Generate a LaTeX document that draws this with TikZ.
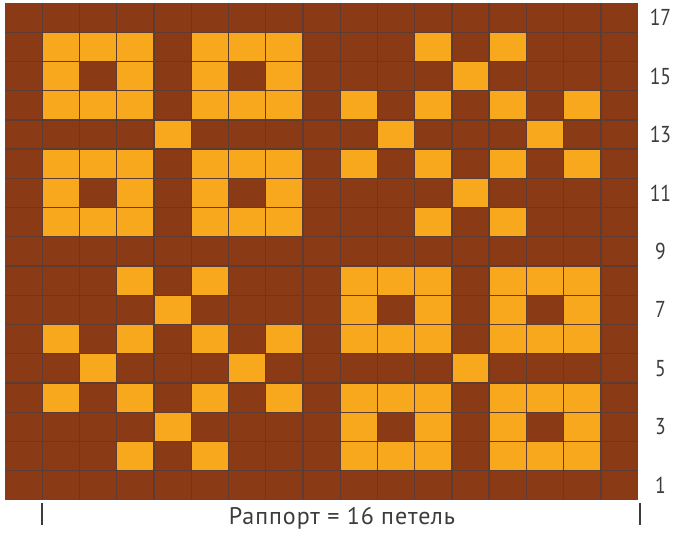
\documentclass[tikz,border=0pt]{standalone}
\usepackage{fontspec}
\setmainfont{PT Sans}[FakeStretch=0.85]
\newfontfamily\captionfont{PT Sans}[LetterSpace=4]
\definecolor{chartbrown}{HTML}{8A3A15}
\definecolor{chartyellow}{HTML}{F8A81C}
\definecolor{gridgray}{HTML}{5E3C34}
\definecolor{labelgray}{HTML}{3C3C3C}

\begin{document}
\begin{tikzpicture}[
  x=1pt, y=1pt,
  cell/.style={fill=chartyellow},
  hole/.style={fill=chartbrown},
  gridline/.style={draw=gridgray, line width=1.3pt},
  rowlabel/.style={text=labelgray, font=\fontsize{23}{25}\selectfont},
  caption/.style={text=labelgray, font=\captionfont\fontsize{24}{26}\selectfont},
  tickline/.style={draw=labelgray, line width=1.5pt}
]
\useasboundingbox (0,0) rectangle (684,540);
\fill[white] (0,0) rectangle (684,540);

\begin{scope}[shift={(5,40)}, x=37.24pt, y=29.24pt]
  \fill[chartbrown] (0,0) rectangle (17,17);

  % square motifs
  \foreach \bx/\by in {1/13, 5/13, 1/9, 5/9, 9/5, 13/5, 9/1, 13/1} {
    \fill[cell] (\bx,\by) rectangle ++(3,3);
    \fill[hole] (\bx+1,\by+1) rectangle ++(1,1);
  }
  \fill[cell] (4,12) rectangle ++(1,1);
  \fill[cell] (12,4) rectangle ++(1,1);

  % star motifs
  \foreach \sx/\sy in {9/9, 1/1} {
    \foreach \dx/\dy in {2/6, 4/6, 3/5, 0/4, 2/4, 4/4, 6/4, 1/3, 5/3,
                         0/2, 2/2, 4/2, 6/2, 3/1, 2/0, 4/0}
      \fill[cell] (\sx+\dx,\sy+\dy) rectangle ++(1,1);
  }

  % grid
  \foreach \c in {1,...,16}
    \draw[gridline] (\c,0) -- (\c,17);
  \foreach \r in {1,...,16}
    \draw[gridline] (0,\r) -- (17,\r);

  % row numbers
  \foreach \r in {1,3,...,17}
    \node[rowlabel] (row\r) at (17.6,\r-0.5) {\r};

  % repeat marks
  \coordinate (leftTop) at (1,-0.1);
  \coordinate (leftBot) at (1,-0.85);
  \coordinate (rightTop) at (17.05,-0.1);
  \coordinate (rightBot) at (17.05,-0.85);
  \draw[tickline] (leftTop) -- (leftBot);
  \draw[tickline] (rightTop) -- (rightBot);
  \node[caption] (rapport) at (9.05,-0.62) {Раппорт = 16 петель};
\end{scope}
\end{tikzpicture}
\end{document}
